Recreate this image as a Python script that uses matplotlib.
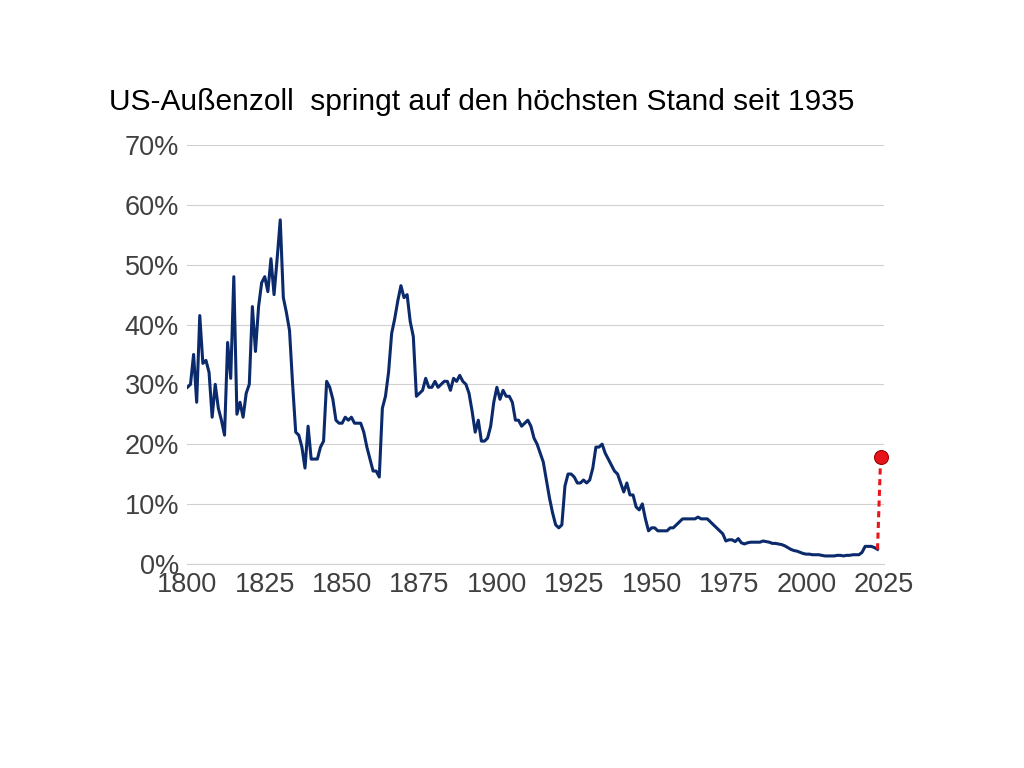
import matplotlib
matplotlib.use("Agg")
import matplotlib.pyplot as plt

years = list(range(1800, 2024))
values = [29.5,30,35,27,41.5,33.5,34,32,24.5,30,26,24,21.5,37,31,48,25,27,24.5,28.5,
30,43,35.5,43,47,48,45.5,51,45,51,57.5,44.5,42,39,30,22,21.5,19.5,16,23,
17.5,17.5,17.5,19.5,20.5,30.5,29.5,27.5,24,23.5,23.5,24.5,24,24.5,23.5,23.5,23.5,22,19.5,17.5,
15.5,15.5,14.5,26,28,32,38.5,41,44,46.5,44.5,45,40.5,38,28,28.5,29,31,29.5,29.5,
30.5,29.5,30,30.5,30.5,29,31,30.5,31.5,30.5,30,28.5,25.5,22,24,20.5,20.5,21,23,27,
29.5,27.5,29,28,28,27,24,24,23,23.5,24,23,21,20,18.5,17,14,11,8.5,6.5,
6,6.5,13,15,15,14.5,13.5,13.5,14,13.5,14,16,19.5,19.5,20,18.5,17.5,16.5,15.5,15,
13.5,12,13.5,11.5,11.5,9.5,9,10,7.5,5.5,6,6,5.5,5.5,5.5,5.5,6,6,6.5,7,
7.5,7.5,7.5,7.5,7.5,7.8,7.5,7.5,7.5,7,6.5,6,5.5,5,3.8,4,4,3.7,4.2,3.5,
3.3,3.5,3.6,3.6,3.6,3.6,3.8,3.7,3.6,3.4,3.4,3.3,3.2,3,2.7,2.4,2.2,2.1,1.9,1.7,
1.6,1.6,1.5,1.5,1.5,1.4,1.3,1.3,1.3,1.3,1.4,1.4,1.3,1.4,1.4,1.5,1.5,1.5,1.9,2.9,
2.9,2.9,2.7,2.4]
jump_years = [2023, 2024]
jump_values = [2.4, 17.8]
title = "US-Außenzoll  springt auf den höchsten Stand seit 1935"

plt.rcParams["font.family"] = "Liberation Sans"
fig = plt.figure(figsize=(10.24, 7.68), dpi=100)
ax = fig.add_axes([0.183, 0.266, 0.680, 0.545])
ax.plot(years, values, color="#0b2a6b", lw=2.2)
ax.plot(jump_years, jump_values, color="#e8141b", lw=2.2, ls=(0, (2, 1.5)), clip_on=False)
ax.plot(jump_years[-1], jump_values[-1], "o", color="#e8141b", ms=10, mec="#a00000", mew=0.8,
        clip_on=False, zorder=5)
ax.set_xlim(1800, 2025)
ax.set_ylim(0, 70)
ax.set_xticks(range(1800, 2026, 25))
ax.set_yticks(range(0, 71, 10))
ax.set_yticklabels([f"{v}%" for v in range(0, 71, 10)])
ax.grid(axis="y", color="#d0d0d0", lw=0.8)
ax.set_axisbelow(True)
for s in ["top", "right", "left"]:
    ax.spines[s].set_visible(False)
ax.spines["bottom"].set_color("#d0d0d0")
ax.tick_params(length=0, labelsize=19.5, labelcolor="#404040", pad=6)
fig.text(0.106, 0.867, title, fontsize=21.5, color="black", va="center")
fig.savefig("out.png", dpi=100)
